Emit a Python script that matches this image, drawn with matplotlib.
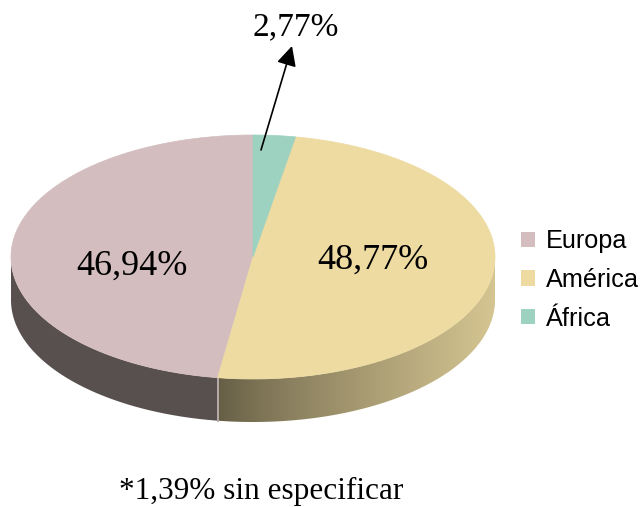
import numpy as np
import matplotlib
matplotlib.use('Agg')
import matplotlib.pyplot as plt
from matplotlib.patches import Patch, Polygon
from matplotlib.colors import to_rgb

# Data
regions = ['Europa', 'América', 'África']
shares = [46.94, 48.77, 2.77]
unspecified = 1.39
top_colors = ['#D3BDBE', '#EDDBA2', '#9ED2C0']

# Geometry of the 3D pie (pixels)
cx, cy = 253, 257
rx, ry = 242, 122
depth = 43

fig = plt.figure(figsize=(6.42, 5.07), dpi=100)
ax = fig.add_axes([0, 0, 1, 1])
ax.set_xlim(0, 642)
ax.set_ylim(507, 0)
ax.axis('off')


def pt(phi):
    r = np.radians(phi)
    return cx + rx * np.cos(r), cy - ry * np.sin(r)


def shade_x(x):
    c = (x - cx) / rx
    k = np.clip((c + 0.15) / 1.15, 0, 1) ** 0.8
    return 0.42 + 0.48 * k


# slice angles, counterclockwise from the top
vals = np.array(shares)
spans = vals / vals.sum() * 360
starts = 90 + np.concatenate([[0], np.cumsum(spans)[:-1]])
ends = starts + spans

# side walls (front half only), shaded with a horizontal gradient
for s, e, col in zip(starts, ends, top_colors):
    lo, hi = max(s, 180), min(e, 360)
    if hi <= lo:
        continue
    a = np.linspace(lo, hi, 300)
    xs, ys = pt(a)
    poly = np.vstack([np.column_stack([xs, ys]),
                      np.column_stack([xs[::-1], ys[::-1] + depth])])
    patch = Polygon(poly, closed=True, fc='none', ec='none')
    ax.add_patch(patch)
    gx = np.linspace(xs.min(), xs.max(), 400)
    base = np.array(to_rgb(col))
    img = np.clip(base[None, :] * shade_x(gx)[:, None], 0, 1)[None, :, :]
    im = ax.imshow(img, extent=(xs.min(), xs.max(), ys.max() + depth, ys.min()),
                   aspect='auto', interpolation='bilinear', zorder=1)
    im.set_clip_path(patch)
    # light seam at slice boundary
    for b in (s, e):
        if 180 < b < 360:
            x, y = pt(b)
            ax.plot([x, x], [y, y + depth], color='#B8AAAB', lw=1.2, zorder=2)

# top faces
for s, e, col in zip(starts, ends, top_colors):
    a = np.linspace(s, e, 200)
    xs, ys = pt(a)
    ax.fill(np.concatenate([[cx], xs]), np.concatenate([[cy], ys]),
            color=col, lw=0.5, ec=col, zorder=3)

ax.set_xlim(0, 642)
ax.set_ylim(507, 0)


def fmt(v):
    return '{:.2f}%'.format(v).replace('.', ',')


serif = 'Liberation Serif'
ax.text(132, 266, fmt(shares[0]), ha='center', va='center', fontsize=26, family=serif, zorder=4)
ax.text(373, 260, fmt(shares[1]), ha='center', va='center', fontsize=26, family=serif, zorder=4)
ax.text(296, 27, fmt(shares[2]), ha='center', va='center', fontsize=24, family=serif)
ax.annotate('', xy=(292, 46), xytext=(261, 150),
            arrowprops=dict(arrowstyle='-|>', color='black', lw=1.2,
                            mutation_scale=30, shrinkA=0, shrinkB=0), zorder=5)
ax.text(261, 491, '*' + fmt(unspecified) + ' sin especificar',
        ha='center', va='center', fontsize=22.5, family=serif)

handles = [Patch(facecolor=c, edgecolor='none') for c in top_colors]
ax.legend(handles, regions, loc='center left', bbox_to_anchor=(521, 280),
          bbox_transform=ax.transData, frameon=False, borderpad=0,
          borderaxespad=0, handlelength=0.55, handleheight=0.55,
          handletextpad=0.42, labelspacing=0.58,
          prop={'family': 'Liberation Sans', 'size': 18.2})

fig.savefig('out.png', dpi=100)
